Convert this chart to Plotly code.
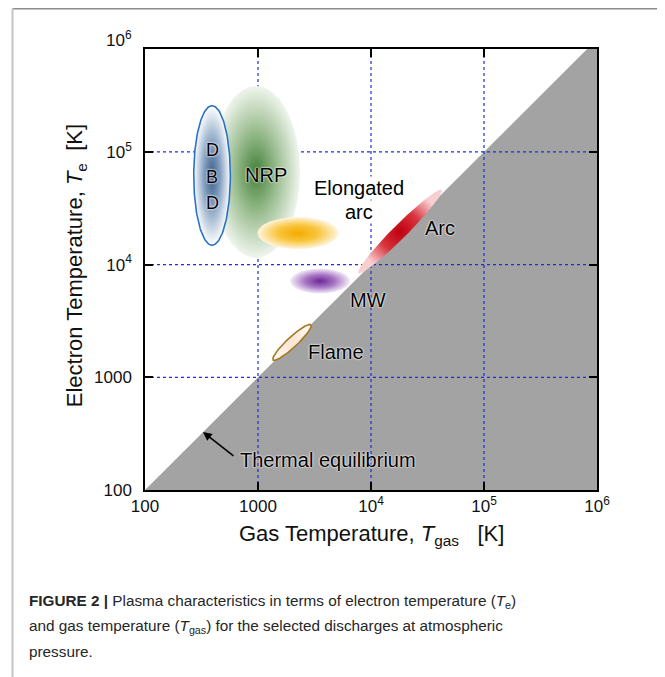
import numpy as np
import plotly.graph_objects as go

# ---------------- data ----------------
x_tickvals = [1e2, 1e3, 1e4, 1e5, 1e6]
x_ticktext = ["100", "1000", "10<sup>4</sup>", "10<sup>5</sup>", "10<sup>6</sup>"]
y_tickvals = [1e2, 1e3, 1e4, 1e5]
y_ticktext = ["100", "1000", "10<sup>4</sup>", "10<sup>5</sup>"]
y_top_label = "10<sup>6</sup>"
grid_vals = [1e3, 1e4, 1e5]

# thermal-equilibrium region (T_e = T_gas and below)
equil_tgas = [1e2, 1e6, 1e6]
equil_te = [1e2, 1e6, 1e2]

# discharge regions: centre (K) and half-extent (decades), tilt (deg)
region_names = ["NRP", "DBD", "Elongated arc", "MW", "Arc", "Flame"]
region_tgas = [960, 392, 2260, 3540, 18070, 2000]
region_te = [66400, 61800, 19050, 7140, 19680, 2040]
region_major = [0.389, 0.162, 0.358, 0.265, 0.522, 0.229]
region_minor = [0.763, 0.619, 0.142, 0.111, 0.062, 0.045]
region_tilt = [0, 0, 0, 0, 45, 43]
region_center_color = ["#44803a", "#3b5f8c", "#f5aa00", "#6a2896", "#bf0010", "#fbe4d4"]
region_mid_color = ["#9dbf93", "#8ea8c6", "#f8c53c", "#a775c4", "#d8343d", "#fcebdf"]
region_edge_color = ["#eff5ed", "#ffffff", "#fff4dc", "#f3ecf7", "#f7cfd1", "#fdf4ee"]
region_line_color = [None, "#2a72c8", None, None, None, "#a27a22"]

Y_RANGE = [2, 5.913]
FONT = "Liberation Sans, Arial, sans-serif"
GLOW = "0px 0px 2px #ffffff, 0px 0px 2px #ffffff"

fig = go.Figure()

# gray equilibrium triangle
fig.add_trace(go.Scatter(x=equil_tgas, y=equil_te, fill="toself", mode="lines",
                         line=dict(width=0, color="#a3a3a3"), fillcolor="#a3a3a3",
                         hoverinfo="skip", showlegend=False))

# dotted blue gridlines (drawn over the gray region)
for g in grid_vals:
    fig.add_trace(go.Scatter(x=[g, g], y=[1e2, 1e6], mode="lines",
                             line=dict(color="#1f2fd0", width=1.2, dash="dot"),
                             hoverinfo="skip", showlegend=False))
    fig.add_trace(go.Scatter(x=[1e2, 1e6], y=[g, g], mode="lines",
                             line=dict(color="#1f2fd0", width=1.2, dash="dot"),
                             hoverinfo="skip", showlegend=False))

# ellipses
t = np.linspace(0, 2 * np.pi, 181)
for i, name in enumerate(region_names):
    th = np.deg2rad(region_tilt[i])
    a, b = region_major[i], region_minor[i]
    lx = np.log10(region_tgas[i]) + a * np.cos(t) * np.cos(th) - b * np.sin(t) * np.sin(th)
    ly = np.log10(region_te[i]) + a * np.cos(t) * np.sin(th) + b * np.sin(t) * np.cos(th)
    lc = region_line_color[i]
    fig.add_trace(go.Scatter(
        x=10 ** lx, y=10 ** ly, mode="lines", fill="toself",
        line=dict(width=1.6 if lc else 0, color=lc if lc else region_edge_color[i]),
        fillgradient=dict(type="radial",
                          colorscale=[[0, region_center_color[i]],
                                      [0.5, region_mid_color[i]],
                                      [1, region_edge_color[i]]]),
        hoverinfo="skip", showlegend=False, name=name))

# ---------------- text labels ----------------
def label(text, lx, ly, size=20, bg=None):
    fig.add_annotation(x=lx, y=ly, xref="x", yref="y", text=text, showarrow=False,
                       bgcolor=bg, borderpad=0,
                       font=dict(family=FONT, size=size, color="#000000", shadow=GLOW))

label("D", np.log10(392), 5.017, 18)
label("B", np.log10(392), 4.780, 18)
label("D", np.log10(392), 4.544, 18)
label("NRP", 3.068, 4.795)
label("Elongated", 3.891, 4.680, bg="white")
label("arc", 3.891, 4.469, bg="white")
label("Arc", 4.611, 4.325)
label("MW", 3.976, 3.686)
label("Flame", 3.690, 3.227)
label("Thermal equilibrium", 3.615, 2.266)

fig.add_annotation(x=2.513, y=2.515, ax=2.796, ay=2.293, xref="x", yref="y",
                   axref="x", ayref="y", text="", showarrow=True,
                   arrowhead=2, arrowsize=1.1, arrowwidth=1.6, arrowcolor="#000000")

# y=1e6 tick label sits just above the frame
fig.add_annotation(x=-0.024, y=(6 - Y_RANGE[0]) / (Y_RANGE[1] - Y_RANGE[0]),
                   xref="paper", yref="paper", text=y_top_label,
                   showarrow=False, xanchor="right", yanchor="middle",
                   font=dict(family=FONT, size=17, color="#111111"))

# axis titles
fig.add_annotation(x=0.5, y=-0.103, xref="paper", yref="paper",
                   text="Gas Temperature, <i>T</i><sub>gas</sub>   [K]",
                   showarrow=False, xanchor="center", yanchor="middle",
                   font=dict(family=FONT, size=22, color="#111111"))
fig.add_annotation(x=-0.152, y=0.508, xref="paper", yref="paper",
                   text="Electron Temperature, <i>T</i><sub>e</sub>  [K]",
                   showarrow=False, textangle=-90, xanchor="center", yanchor="middle",
                   font=dict(family=FONT, size=22, color="#111111"))

# caption
CAP = "Liberation Sans, Arial, sans-serif"
cap_lines = [
    "<b>FIGURE 2 |</b> Plasma characteristics in terms of electron temperature (<i>T</i><sub>e</sub>)",
    "and gas temperature (<i>T</i><sub>gas</sub>) for the selected discharges at atmospheric",
    "pressure.",
]
cap_y = [-0.252, -0.309, -0.366]
for txt, yy in zip(cap_lines, cap_y):
    fig.add_annotation(x=-0.261, y=yy, xref="paper", yref="paper", text=txt,
                       showarrow=False, xanchor="left", yanchor="middle", align="left",
                       font=dict(family=CAP, size=15.3, color="#262626"))

# outer frame
fig.add_shape(type="line", xref="paper", yref="paper", x0=-0.2931, x1=1.1438, y0=1.0918, y1=1.0918,
              line=dict(color="#8c8c8c", width=2))
fig.add_shape(type="line", xref="paper", yref="paper", x0=-0.2931, x1=-0.2931, y0=1.0918, y1=-0.45,
              line=dict(color="#c4c4c4", width=2))
fig.add_shape(type="line", xref="paper", yref="paper", x0=1.1438, x1=1.1438, y0=1.0918, y1=-0.45,
              line=dict(color="#6e6e6e", width=2))

axis_common = dict(type="log", showgrid=False, zeroline=False, showline=True,
                   linecolor="black", linewidth=1.5, mirror="allticks",
                   ticks="inside", ticklen=8, tickwidth=1.5, tickcolor="black",
                   tickfont=dict(family=FONT, size=17, color="#111111"))

fig.update_xaxes(range=[2, 6], tickvals=x_tickvals, ticktext=x_ticktext, **axis_common)
fig.update_yaxes(range=Y_RANGE, tickvals=y_tickvals, ticktext=y_ticktext,
                 ticklabelstandoff=8, **axis_common)

# page body adds an 8px offset, so margins are shifted accordingly
fig.update_layout(width=665, height=677, autosize=False,
                  margin=dict(l=137, r=76, t=41, b=195),
                  paper_bgcolor="white", plot_bgcolor="white",
                  showlegend=False, font=dict(family=FONT))

fig.write_html("out.html")
